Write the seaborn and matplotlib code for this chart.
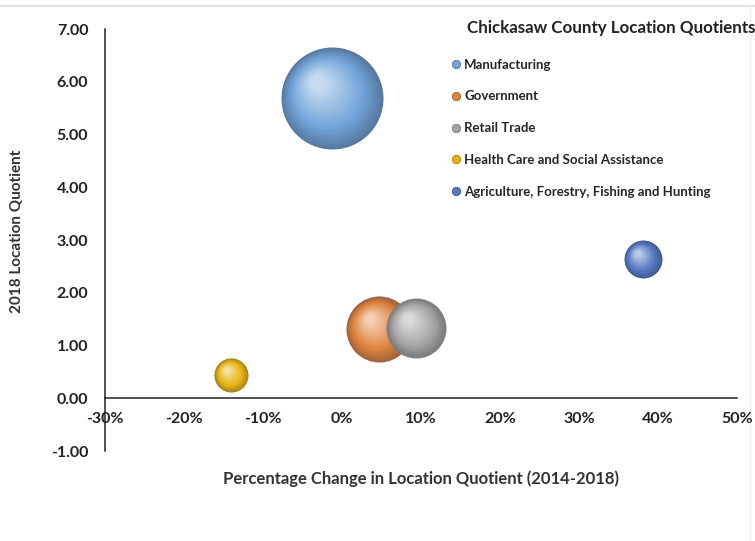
import numpy as np
import matplotlib
matplotlib.use('Agg')
import matplotlib.pyplot as plt
import matplotlib.transforms as mtransforms
from matplotlib.lines import Line2D
from matplotlib.colors import to_rgb
from matplotlib.ticker import FuncFormatter
import seaborn as sns

industries = ['Manufacturing', 'Government', 'Retail Trade',
              'Health Care and Social Assistance',
              'Agriculture, Forestry, Fishing and Hunting']
pct_change = [-0.013, 0.047, 0.094, -0.140, 0.381]   # 2014-2018 change in LQ
lq_2018 = [5.69, 1.31, 1.33, 0.44, 2.64]
employment = [1300, 545, 450, 145, 180]             # bubble size
colors = ['#72A5DA', '#E0843F', '#A5A5A5', '#E6B411', '#5579C2']

x_ticks = [-0.3, -0.2, -0.1, 0.0, 0.1, 0.2, 0.3, 0.4, 0.5]
y_ticks = [-1, 0, 1, 2, 3, 4, 5, 6, 7]

sns.set_style('white')
plt.rcParams['font.family'] = ['Lato', 'DejaVu Sans']
plt.rcParams['font.weight'] = 'bold'

fig = plt.figure(figsize=(7.55, 5.41), dpi=100)
ax = fig.add_axes([0.139, 0.166, 0.837, 0.780])

# area proportional to employment, like excel bubbles
k = 4.15
sns.scatterplot(x=pct_change, y=lq_2018, hue=industries, palette=colors,
                size=employment, sizes=(k * min(employment), k * max(employment)),
                hue_order=industries, legend=False, linewidth=0, ax=ax, zorder=3)
for c in ax.collections:
    c.remove()


def mix(a, b, t):
    return tuple(a[i] * (1 - t) + b[i] * t for i in range(3))


# fake 3d shading: stacked discs shrinking toward a highlight
n_layers = 30
for i, name in enumerate(industries):
    base = to_rgb(colors[i])
    dark = mix(base, (0.15, 0.15, 0.2), 0.35)
    light = mix(base, (1, 1, 1), 0.6)
    s0 = k * employment[i]
    r = np.sqrt(s0) / 2  # radius in points
    alpha = 0.93 if name == 'Retail Trade' else 1.0
    for j in range(n_layers):
        t = j / (n_layers - 1)
        if t < 0.35:
            col = mix(dark, base, t / 0.35)
        else:
            col = mix(base, light, (t - 0.35) / 0.65)
        f = 1 - 0.85 * t
        dx = -0.28 * r * t / 72
        dy = 0.32 * r * t / 72
        tr = ax.transData + mtransforms.ScaledTranslation(dx, dy, fig.dpi_scale_trans)
        ax.scatter([pct_change[i]], [lq_2018[i]], s=s0 * f * f, color=col,
                   alpha=alpha if j == 0 else 1.0,
                   linewidths=0, transform=tr, zorder=3 + i)

ax.set_xlim(-0.3, 0.5)
ax.set_ylim(-1, 7)
ax.set_xticks(x_ticks)
ax.set_yticks(y_ticks)
ax.xaxis.set_major_formatter(FuncFormatter(lambda v, p: f'{v * 100:.0f}%'))
ax.yaxis.set_major_formatter(FuncFormatter(lambda v, p: f'{v:.2f}'))

for s in ['top', 'right']:
    ax.spines[s].set_visible(False)
ax.spines['bottom'].set_position(('data', 0))
for s in ['left', 'bottom']:
    ax.spines[s].set_color('#222222')
    ax.spines[s].set_linewidth(1.1)

ax.tick_params(axis='x', direction='in', length=4, width=1.1, color='#222222',
               pad=10, labelsize=11.5, labelcolor='#222222')
ax.tick_params(axis='y', direction='inout', length=8, width=1.1, color='#222222',
               pad=8, labelsize=11.5, labelcolor='#222222')
for lab in ax.get_xticklabels() + ax.get_yticklabels():
    lab.set_fontweight('bold')

ax.set_xlabel('Percentage Change in Location Quotient (2014-2018)',
              fontsize=12, fontweight='bold', color='#333333')
ax.xaxis.set_label_coords(0.5, -0.045)
ax.set_ylabel('2018 Location Quotient', fontsize=11, fontweight='bold',
              color='#333333')
ax.yaxis.set_label_coords(-0.128, 0.52)

fig.text(467 / 755, 1 - 28 / 541, 'Chickasaw County Location Quotients',
         ha='left', va='center', fontsize=12.2, fontweight='bold', color='#222222')

handles = [Line2D([], [], marker='o', linestyle='', markersize=6,
                  markerfacecolor=colors[i],
                  markeredgecolor=mix(to_rgb(colors[i]), (0, 0, 0), 0.3),
                  markeredgewidth=0.6)
           for i in range(len(industries))]
fig.legend(handles, industries, loc='upper left',
           bbox_to_anchor=(443 / 755, 1 - 52 / 541), frameon=False,
           labelspacing=1.5, handletextpad=0.1,
           handlelength=1.0, borderpad=0, prop={'weight': 'bold', 'size': 9.5})

# light frame of the original screenshot, kept under everything else
fig.add_artist(Line2D([0, 1], [1 - 6 / 541, 1 - 6 / 541], transform=fig.transFigure,
                      color='#e2e2e2', linewidth=1.5, zorder=-5))
fig.add_artist(Line2D([750 / 755, 750 / 755], [0, 1 - 6 / 541], transform=fig.transFigure,
                      color='#eeeeee', linewidth=1, zorder=-5))

fig.savefig('out.png', dpi=100)
